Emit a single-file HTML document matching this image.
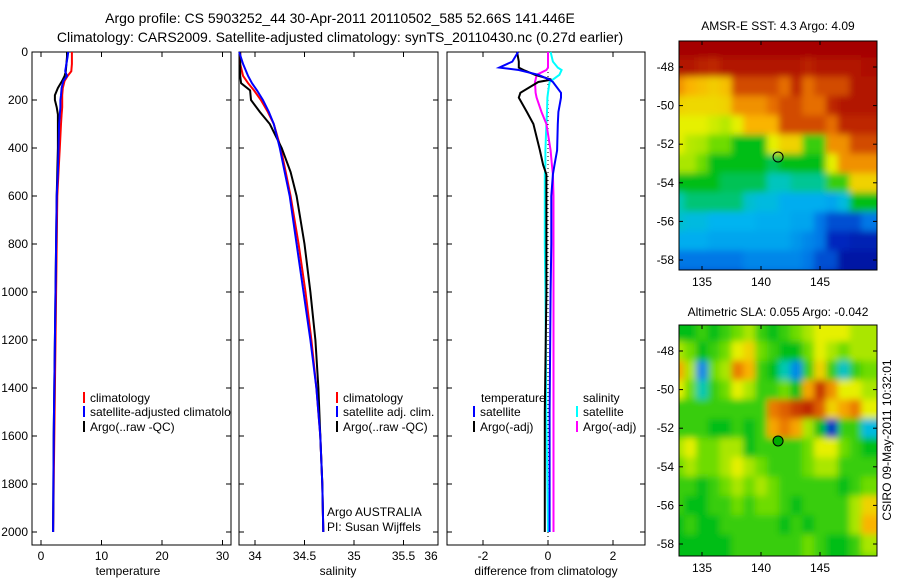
<!DOCTYPE html>
<html><head><meta charset="utf-8"><style>
body{margin:0;background:#fff;}
svg{display:block;font-family:"Liberation Sans",sans-serif;}
text{font-size:12px;fill:#000;}
</style></head><body>
<svg id="fig" width="900" height="580" viewBox="0 0 900 580">
<defs><filter id="blur" x="-10%" y="-10%" width="120%" height="120%"><feGaussianBlur stdDeviation="3.5"/></filter></defs>
<text x="340" y="23" text-anchor="middle" style="font-size:14px">Argo profile: CS 5903252_44 30-Apr-2011 20110502_585 52.66S 141.446E</text>
<text x="340" y="42" text-anchor="middle" style="font-size:14px">Climatology: CARS2009. Satellite-adjusted climatology: synTS_20110430.nc (0.27d earlier)</text>
<text x="778" y="30" text-anchor="middle">AMSR-E SST: 4.3 Argo: 4.09</text>
<text x="778" y="316" text-anchor="middle">Altimetric SLA: 0.055 Argo: -0.042</text>
<text transform="translate(891,440) rotate(-90)" text-anchor="middle">CSIRO 09-May-2011 10:32:01</text>
</svg>
<script>
// ---- data ----
const tDepths=[0,20,50,80,100,120,150,180,200,230,260,300,400,500,600,800,1000,1200,1400,1600,1800,2000];
const tClim=[5.1,5.1,5.1,5.0,4.4,3.9,3.6,3.5,3.5,3.5,3.4,3.3,3.1,2.9,2.7,2.6,2.5,2.4,2.3,2.2,2.1,2.0];
const tSat=[4.5,4.4,4.2,4.0,4.3,3.7,3.4,3.3,3.2,3.2,3.1,3.0,2.9,2.8,2.6,2.5,2.4,2.3,2.2,2.1,2.05,2.0];
const tArgo=[4.3,4.3,4.2,4.1,3.9,3.5,2.8,2.3,2.3,2.6,2.8,2.8,2.8,2.7,2.6,2.5,2.4,2.3,2.2,2.1,2.05,2.0];
const sDepths=[0,50,100,130,160,200,250,300,400,500,600,800,1000,1200,1400,1600,1800,2000];
const sClim=[33.85,33.85,33.88,33.93,33.99,34.06,34.13,34.19,34.26,34.31,34.36,34.44,34.51,34.57,34.62,34.66,34.68,34.69];
const sSat=[33.84,33.88,33.93,33.97,34.02,34.08,34.14,34.19,34.25,34.30,34.35,34.42,34.49,34.56,34.62,34.66,34.68,34.69];
const sArgo=[33.85,33.85,33.85,33.86,33.95,33.96,34.05,34.15,34.27,34.36,34.42,34.50,34.56,34.61,34.64,34.66,34.68,34.69];
const dDepths=[0,40,65,75,95,115,125,170,190,250,300,410,470,510,600,800,1000,1500,2000];
const dSatT=[-0.92,-1.1,-1.5,-0.9,-0.3,0.05,0.15,0.4,0.4,0.32,0.3,0.28,0.2,0.15,0.1,0.1,0.08,0.05,0.05];
const dArgoT=[-0.95,-0.9,-0.9,-0.75,-0.4,0.1,-0.3,-0.85,-0.9,-0.65,-0.45,-0.25,-0.15,-0.05,-0.05,-0.05,-0.05,-0.1,-0.1];
const dArgoS=[0,0,0,-0.05,-0.35,-0.38,-0.4,-0.38,-0.35,-0.2,-0.05,0.08,0.12,0.15,0.17,0.17,0.17,0.17,0.17];
const dSatS=[0.08,0.15,0.3,0.42,0.35,0.15,0.05,0.0,-0.02,-0.03,-0.05,-0.08,-0.08,-0.1,-0.1,-0.1,-0.08,-0.05,0];
const depthTicks=[0,200,400,600,800,1000,1200,1400,1600,1800,2000];
const tTicks=[0,10,20,30];
const sTicks=[34,34.5,35,35.5,36];
const dTicks=[-2,0,2];
const mapLons=[133,134,135,136,137,138,139,140,141,142,143,144,145,146,147,148,149];
const mapLats=[-47,-48,-49,-50,-51,-52,-53,-54,-55,-56,-57,-58,-59];
const lonTicks=[135,140,145];
const latTicks=[-48,-50,-52,-54,-56,-58];
const sstGrid=[
[1,1,1,1,1,1,1,1,1,1,1,1,1,1,1,1,1],
[.95,.95,.92,.9,.95,.95,.95,.95,.95,.95,.95,.92,.95,.95,.95,.95,.97],
[.75,.7,.68,.66,.68,.85,.85,.85,.85,.8,.9,.8,.85,.85,.85,.95,.95],
[.65,.64,.64,.64,.65,.75,.75,.75,.8,.85,.85,.8,.8,.9,.95,.95,.95],
[.6,.6,.6,.58,.56,.6,.7,.7,.7,.85,.85,.85,.85,.8,.9,.9,.9],
[.6,.56,.55,.5,.5,.4,.4,.4,.6,.65,.65,.45,.45,.75,.75,.85,.85],
[.55,.55,.5,.4,.4,.4,.4,.4,.38,.4,.4,.4,.4,.6,.75,.75,.75],
[.4,.4,.4,.4,.38,.38,.38,.38,.34,.34,.36,.36,.36,.45,.45,.65,.65],
[.35,.37,.37,.37,.37,.37,.32,.3,.3,.27,.27,.27,.27,.26,.3,.4,.4],
[.32,.3,.3,.28,.28,.28,.28,.27,.27,.27,.26,.26,.2,.15,.15,.15,.2],
[.27,.27,.27,.26,.26,.26,.26,.26,.26,.26,.24,.22,.2,.1,.1,.08,.08],
[.2,.2,.2,.2,.2,.2,.22,.22,.22,.22,.22,.2,.15,.15,.05,.05,.05],
[.15,.15,.15,.15,.15,.15,.18,.18,.18,.18,.18,.18,.12,.1,.05,.03,.03]];
const slaGrid=[
[.4,.4,.45,.4,.45,.5,.55,.45,.4,.45,.5,.55,.6,.6,.6,.55,.55],
[.55,.5,.4,.45,.5,.6,.65,.5,.45,.4,.4,.5,.6,.55,.5,.55,.55],
[.72,.55,.22,.5,.55,.78,.7,.45,.4,.35,.22,.45,.65,.45,.33,.45,.5],
[.6,.5,.35,.45,.5,.6,.55,.45,.45,.5,.4,.72,.88,.75,.6,.6,.55],
[.45,.45,.45,.45,.45,.45,.45,.45,.78,.82,.87,.9,.82,.65,.72,.78,.6],
[.45,.45,.45,.4,.4,.45,.4,.45,.72,.78,.72,.55,.4,.12,.45,.45,.3],
[.55,.6,.5,.5,.55,.55,.4,.45,.45,.45,.45,.5,.6,.6,.5,.45,.4],
[.5,.55,.5,.5,.55,.6,.55,.5,.45,.45,.45,.5,.55,.55,.45,.45,.45],
[.45,.45,.4,.45,.5,.55,.5,.55,.5,.45,.45,.45,.45,.45,.4,.45,.5],
[.45,.4,.4,.45,.45,.5,.45,.5,.5,.45,.4,.45,.45,.45,.45,.55,.65],
[.4,.45,.4,.4,.45,.45,.45,.45,.45,.4,.45,.4,.45,.45,.45,.55,.7],
[.4,.4,.4,.4,.4,.45,.45,.45,.45,.45,.45,.5,.45,.4,.4,.45,.55],
[.4,.4,.4,.4,.4,.45,.45,.45,.45,.45,.45,.5,.45,.4,.4,.45,.5]];

const NS='http://www.w3.org/2000/svg';
const svg=document.getElementById('fig');
function el(tag,attrs,parent){const e=document.createElementNS(NS,tag);for(const k in attrs)e.setAttribute(k,attrs[k]);(parent||svg).appendChild(e);return e;}
const yD=d=>52+d*0.24;
function panel(name,x0,x1,xs,ticks,fmt,xlabel,labelX){
  const g=el('g',{});
  
  
  const r=el('rect',{x:x0,y:52,width:x1-x0,height:493,fill:'#fff',stroke:'#000','stroke-width':1},g);
  
  
  ticks.forEach(t=>{const x=xs(t);
    if(x>=x0&&x<=x1){el('line',{x1:x,x2:x,y1:52,y2:57,stroke:'#000'},g);el('line',{x1:x,x2:x,y1:545,y2:540,stroke:'#000'},g);}
    const tx=el('text',{x:Math.min(x,x1-7),y:560,'text-anchor':'middle'},g);tx.textContent=fmt(t);
    
    });
  depthTicks.forEach(d=>{const y=yD(d);el('line',{x1:x0,x2:x0+5,y1:y,y2:y,stroke:'#000'},g);el('line',{x1:x1,x2:x1-5,y1:y,y2:y,stroke:'#000'},g);});
  const xl=el('text',{x:labelX,y:575,'text-anchor':'middle'},g);xl.textContent=xlabel;
  
  
  return g;
}
const xT=v=>41+v*6.05, xS=v=>255+(v-34)*99, xDf=v=>548+v*32.5;
const g1=panel('temperature-panel',32,231,xT,tTicks,String,'temperature',128);
const g2=panel('salinity-panel',239,438,xS,sTicks,String,'salinity',338);
const g3=panel('difference-panel',447,645,xDf,dTicks,String,'difference from climatology',546);
depthTicks.forEach(d=>{const t=el('text',{x:28,y:yD(d)+4,'text-anchor':'end'});t.textContent=d;
  
  });
el('line',{x1:548,x2:548,y1:52,y2:545,stroke:'#000','stroke-dasharray':'1,3'},g3);
function line(g,name,depths,vals,xs,color,w){
  const p=depths.map((d,i)=>xs(vals[i]).toFixed(1)+','+yD(d).toFixed(1)).join(' ');
  const l=el('polyline',{points:p,fill:'none',stroke:color,'stroke-width':w||2},g);
  
  
}
line(g1,'temp-climatology-line',tDepths,tClim,xT,'#f00');
line(g1,'temp-argo-line',tDepths,tArgo,xT,'#000');
line(g1,'temp-satellite-line',tDepths,tSat,xT,'#00f');
line(g2,'sal-climatology-line',sDepths,sClim,xS,'#f00');
line(g2,'sal-argo-line',sDepths,sArgo,xS,'#000');
line(g2,'sal-satellite-line',sDepths,sSat,xS,'#00f');
line(g3,'diff-sat-salinity-line',dDepths,dSatS,xDf,'#0ff');
line(g3,'diff-argo-salinity-line',dDepths,dArgoS,xDf,'#f0f');
line(g3,'diff-argo-temp-line',dDepths,dArgoT,xDf,'#000');
line(g3,'diff-sat-temp-line',dDepths,dSatT,xDf,'#00f');
function legend(g,x,y,color,label){
  const l=el('line',{x1:x,x2:x,y1:y-10,y2:y+1,stroke:color,'stroke-width':2},g);
  
  
  if(label){const t=el('text',{x:x+6,y:y},g);t.textContent=label;
  
  }
}
const cp1=el('clipPath',{id:'c1'});
el('rect',{x:32,y:52,width:199,height:493},cp1);
const lg1=el('g',{'clip-path':'url(#c1)'},g1);
legend(lg1,84,402,'#f00','climatology');legend(lg1,84,416,'#00f','satellite-adjusted climatology');legend(lg1,84,431,'#000','Argo(..raw -QC)');
legend(g2,337,402,'#f00','climatology');legend(g2,337,416,'#00f','satellite adj. clim.');legend(g2,337,431,'#000','Argo(..raw -QC)');
const tt=el('text',{x:481,y:402},g3);tt.textContent='temperature';
const ts=el('text',{x:583,y:402},g3);ts.textContent='salinity';
legend(g3,474,416,'#00f','satellite');legend(g3,474,431,'#000','Argo(-adj)');
legend(g3,577,416,'#0ff','satellite');legend(g3,577,431,'#f0f','Argo(-adj)');
const a1=el('text',{x:327,y:516},g2);a1.textContent='Argo AUSTRALIA';
const a2=el('text',{x:327,y:531},g2);a2.textContent='PI: Susan Wijffels';

const cmapStops=[[0,0,0,140],[0.1,0,40,190],[0.2,0,120,230],[0.28,0,180,240],[0.35,0,200,180],[0.4,0,190,20],[0.5,110,220,0],[0.6,230,240,0],[0.7,250,180,0],[0.8,230,110,0],[0.9,190,40,0],[1,165,0,0]];
function cmap(t){t=Math.max(0,Math.min(1,t));
  for(let i=1;i<cmapStops.length;i++){const a=cmapStops[i-1],b=cmapStops[i];
    if(t<=b[0]){const f=(t-a[0])/(b[0]-a[0]);
      return `rgb(${Math.round(a[1]+f*(b[1]-a[1]))},${Math.round(a[2]+f*(b[2]-a[2]))},${Math.round(a[3]+f*(b[3]-a[3]))})`;}}
  return 'rgb(165,0,0)';}
function map(name,top,bottom,lat48y,grid,dotFill){
  const x0=679,x1=877,pxLon=11.8,pxLat=19.3,pad=20;
  const xL=lon=>702+(lon-135)*pxLon, yL=lat=>lat48y+(-48-lat)*pxLat;
  const g=el('g',{});
  
  
  const cid='clip-'+name;const cp=el('clipPath',{id:cid},g);el('rect',{x:x0,y:top,width:x1-x0,height:bottom-top},cp);
  const outer=el('g',{'clip-path':`url(#${cid})`},g);
  const cg=el('g',{filter:'url(#blur)'},outer);
  const nr=grid.length,nc=grid[0].length;
  grid.forEach((row,i)=>row.forEach((v,j)=>{
    let x=xL(mapLons[j])-pxLon/2,y=yL(mapLats[i])-pxLat/2,w=pxLon+0.6,h=pxLat+0.6;
    if(j===0){x-=pad;w+=pad;} if(j===nc-1){w+=pad;}
    if(i===0){y-=pad;h+=pad;} if(i===nr-1){h+=pad;}
    const c=el('rect',{x:x.toFixed(1),y:y.toFixed(1),width:w.toFixed(1),height:h.toFixed(1),fill:cmap(v)},cg);
    
    
  }));
  el('rect',{x:x0,y:top,width:x1-x0,height:bottom-top,fill:'none',stroke:'#000'},g);
  lonTicks.forEach(l=>{const x=xL(l);el('line',{x1:x,x2:x,y1:top,y2:top+4,stroke:'#000'},g);el('line',{x1:x,x2:x,y1:bottom,y2:bottom-4,stroke:'#000'},g);
    const t=el('text',{x:x,y:bottom+16,'text-anchor':'middle'},g);t.textContent=l;
    
    });
  latTicks.forEach(l=>{const y=yL(l);el('line',{x1:x0,x2:x0+4,y1:y,y2:y,stroke:'#000'},g);el('line',{x1:x1,x2:x1-4,y1:y,y2:y,stroke:'#000'},g);
    const t=el('text',{x:674,y:y+4,'text-anchor':'end'},g);t.textContent=l;
    
    });
  const d=el('circle',{cx:xL(141.446),cy:yL(-52.66),r:5,fill:dotFill,stroke:'#000','stroke-width':1},g);
  
  
}
map('sst-map',41,270,67,sstGrid,'none');
map('sla-map',325,556,351,slaGrid,'#0a0');
</script>
</body></html>
